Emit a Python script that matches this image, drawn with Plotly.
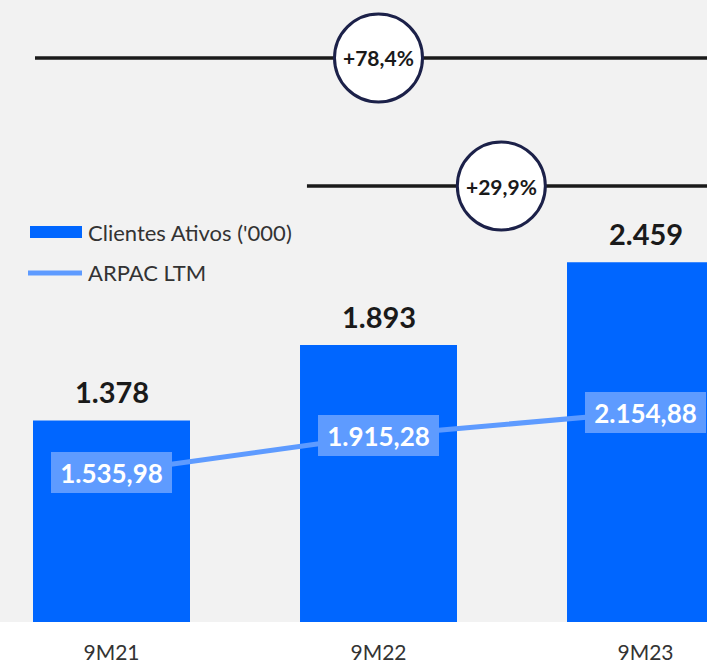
import plotly.graph_objects as go

# Periods, active clients ('000) and ARPAC LTM
periods = ["9M21", "9M22", "9M23"]
clientes = [1378, 1893, 2459]
arpac = [1535.98, 1915.28, 2154.88]

BAR_BLUE = "#0066ff"
LINE_BLUE = "#5e9bff"
DARK = "#1a1a1a"
NAVY = "#1c2149"
FONT = "Lato"

W, H = 707, 665
PLOT_H = 622  # height of the plotting area (bottom margin holds the tick labels)


def fmt_int(v):
    return f"{v:,}".replace(",", ".")


def fmt_dec(v):
    s = f"{v:,.2f}"
    return s.replace(",", "#").replace(".", ",").replace("#", ".")


def fmt_pct(v):
    return "+" + f"{v * 100:.1f}".replace(".", ",") + "%"


xs = list(range(len(periods)))

fig = go.Figure()
fig.add_trace(go.Bar(
    x=xs, y=clientes, width=0.588, marker=dict(color=BAR_BLUE, line=dict(width=0)),
    name="Clientes Ativos ('000)", showlegend=False, yaxis="y",
))
fig.add_trace(go.Scatter(
    x=xs, y=arpac, mode="lines", line=dict(color=LINE_BLUE, width=5),
    name="ARPAC LTM", showlegend=False, yaxis="y2",
))

annotations = []
# value labels above the bars
for x, v in zip(xs, clientes):
    annotations.append(dict(
        x=x, y=v, xref="x", yref="y", text=f"<b>{fmt_int(v)}</b>", showarrow=False,
        xanchor="center", yanchor="middle", yshift=29,
        font=dict(family=FONT, size=29, color=DARK),
    ))
# ARPAC labels in boxes on the line points
for x, v in zip(xs, arpac):
    annotations.append(dict(
        x=x, y=v, xref="x", yref="y2", text=f"<b>{fmt_dec(v)}</b>", showarrow=False,
        xanchor="center", yanchor="middle", bgcolor=LINE_BLUE, width=121, height=41,
        borderpad=0, borderwidth=0, font=dict(family=FONT, size=26, color="white"),
    ))

shapes = []
# growth brackets: a horizontal rule with a circled percentage
growth = [
    (clientes[2] / clientes[0] - 1, -0.2865, 1.0, 1 - 58 / PLOT_H),
    (clientes[2] / clientes[1] - 1, 0.732, 1.46, 1 - 186 / PLOT_H),
]
for g, x_start, x_mid, y_p in growth:
    shapes.append(dict(type="line", xref="x", yref="paper", x0=x_start, x1=2.3,
                       y0=y_p, y1=y_p, line=dict(color=DARK, width=3.5), layer="above"))
    shapes.append(dict(type="circle", xref="x", yref="paper", xsizemode="pixel",
                       ysizemode="pixel", xanchor=x_mid, yanchor=y_p,
                       x0=-44, x1=44, y0=-44, y1=44, fillcolor="white",
                       line=dict(color=NAVY, width=3), layer="above"))
    annotations.append(dict(x=x_mid, y=y_p, xref="x", yref="paper", text=f"<b>{fmt_pct(g)}</b>",
                            showarrow=False, xanchor="center", yanchor="middle",
                            font=dict(family=FONT, size=21, color=DARK)))

# legend drawn by hand
shapes.append(dict(type="rect", xref="paper", yref="paper", x0=30 / W, x1=82 / W,
                   y0=1 - 238 / PLOT_H, y1=1 - 226 / PLOT_H, fillcolor=BAR_BLUE,
                   line=dict(width=0), layer="above"))
shapes.append(dict(type="line", xref="paper", yref="paper", x0=28 / W, x1=82 / W,
                   y0=1 - 273 / PLOT_H, y1=1 - 273 / PLOT_H,
                   line=dict(color=LINE_BLUE, width=5), layer="above"))
for label, py in [("Clientes Ativos ('000)", 232), ("ARPAC LTM", 273)]:
    annotations.append(dict(x=86 / W, y=1 - py / PLOT_H, xref="paper", yref="paper",
                            text=label, showarrow=False, xanchor="left", yanchor="middle",
                            font=dict(family=FONT, size=22, color="#333333")))

fig.update_layout(
    width=W, height=H,
    margin=dict(l=0, r=0, t=0, b=H - PLOT_H, pad=0),
    paper_bgcolor="white", plot_bgcolor="#f2f2f2",
    xaxis=dict(range=[-0.4176, 2.2303], tickvals=xs, ticktext=periods, showgrid=False,
               zeroline=False, showline=False, ticks="", ticklabelstandoff=16,
               tickfont=dict(family=FONT, size=21, color="#333333"), fixedrange=True),
    yaxis=dict(range=[0, PLOT_H / 0.1463], visible=False, showgrid=False, zeroline=False),
    yaxis2=dict(range=[0, PLOT_H / 0.0974], overlaying="y", visible=False,
                showgrid=False, zeroline=False),
    shapes=shapes, annotations=annotations, showlegend=False,
)

fig.write_html("out.html")
